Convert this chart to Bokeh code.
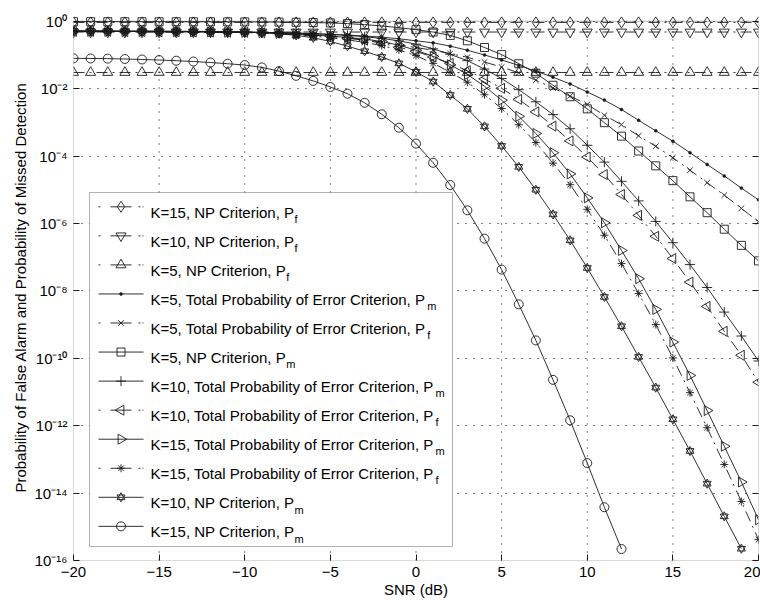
from bokeh.plotting import figure
from bokeh.models import (Range1d, LogAxis, FixedTicker, CustomJSTickFormatter,
                          BoxAnnotation, Label)
from bokeh.embed import file_html
from bokeh.resources import INLINE

# ---------------- data ----------------
snr = [-20, -19, -18, -17, -16, -15, -14, -13, -12, -11,
       -10, -9, -8, -7, -6, -5, -4, -3, -2, -1,
       0, 1, 2, 3, 4, 5, 6, 7, 8, 9,
       10, 11, 12, 13, 14, 15, 16, 17, 18, 19, 20]

x_ticks = [-20, -15, -10, -5, 0, 5, 10, 15, 20]
y_tick_exps = [0, -2, -4, -6, -8, -10, -12, -14, -16]

# values given as log10(probability)
pf_k15_np = [-0.035, -0.035, -0.035, -0.035, -0.035, -0.035, -0.035, -0.035, -0.035, -0.035,
             -0.035, -0.035, -0.035, -0.035, -0.035, -0.035, -0.035, -0.035, -0.035, -0.035,
             -0.035, -0.035, -0.035, -0.035, -0.035, -0.035, -0.035, -0.035, -0.035, -0.035,
             -0.035, -0.035, -0.035, -0.035, -0.035, -0.035, -0.035, -0.035, -0.035, -0.035, -0.035]
pf_k10_np = [-0.32, -0.32, -0.32, -0.32, -0.32, -0.32, -0.32, -0.32, -0.32, -0.32,
             -0.32, -0.32, -0.32, -0.32, -0.32, -0.32, -0.32, -0.32, -0.32, -0.32,
             -0.32, -0.32, -0.32, -0.32, -0.32, -0.32, -0.32, -0.32, -0.32, -0.32,
             -0.32, -0.32, -0.32, -0.32, -0.32, -0.32, -0.32, -0.32, -0.32, -0.32, -0.32]
pf_k5_np = [-1.52, -1.52, -1.52, -1.52, -1.52, -1.52, -1.52, -1.52, -1.52, -1.52,
            -1.52, -1.52, -1.52, -1.52, -1.52, -1.52, -1.52, -1.52, -1.52, -1.52,
            -1.52, -1.52, -1.52, -1.52, -1.52, -1.52, -1.52, -1.52, -1.52, -1.52,
            -1.52, -1.52, -1.52, -1.52, -1.52, -1.52, -1.52, -1.52, -1.52, -1.52, -1.52]
pm_k5_tpe = [-0.30, -0.30, -0.30, -0.30, -0.30, -0.305, -0.305, -0.31, -0.31, -0.315,
             -0.32, -0.33, -0.34, -0.355, -0.37, -0.39, -0.41, -0.44, -0.47, -0.52,
             -0.58, -0.64, -0.74, -0.86, -1.00, -1.15, -1.31, -1.48, -1.66, -1.86,
             -2.10, -2.34, -2.62, -2.94, -3.25, -3.56, -3.90, -4.25, -4.59, -4.95, -5.30]
pf_k5_tpe = [-0.30, -0.30, -0.30, -0.305, -0.305, -0.31, -0.31, -0.315, -0.32, -0.325,
             -0.33, -0.345, -0.36, -0.38, -0.41, -0.45, -0.50, -0.56, -0.62, -0.70,
             -0.78, -0.86, -0.96, -1.07, -1.21, -1.36, -1.53, -1.75, -1.98, -2.22,
             -2.47, -2.79, -3.07, -3.40, -3.71, -4.05, -4.42, -4.79, -5.16, -5.55, -5.95]
pm_k5_np = [-0.013, -0.013, -0.013, -0.014, -0.014, -0.015, -0.015, -0.016, -0.017, -0.018,
            -0.02, -0.022, -0.025, -0.03, -0.04, -0.05, -0.07, -0.10, -0.14, -0.19,
            -0.25, -0.32, -0.42, -0.58, -0.78, -0.99, -1.26, -1.54, -1.90, -2.24,
            -2.60, -3.01, -3.41, -3.85, -4.29, -4.73, -5.21, -5.68, -6.17, -6.65, -7.11]
pm_k10_tpe = [-0.30, -0.30, -0.30, -0.30, -0.30, -0.305, -0.31, -0.31, -0.315, -0.32,
              -0.325, -0.33, -0.34, -0.35, -0.37, -0.39, -0.42, -0.46, -0.51, -0.58,
              -0.68, -0.82, -0.98, -1.17, -1.42, -1.70, -2.03, -2.39, -2.77, -3.19,
              -3.68, -4.18, -4.75, -5.33, -5.94, -6.57, -7.22, -7.90, -8.63, -9.34, -10.08]
pf_k10_tpe = [-0.30, -0.30, -0.30, -0.305, -0.305, -0.31, -0.31, -0.315, -0.32, -0.325,
              -0.33, -0.34, -0.355, -0.37, -0.40, -0.44, -0.50, -0.56, -0.65, -0.77,
              -0.90, -1.06, -1.25, -1.47, -1.71, -1.99, -2.32, -2.69, -3.11, -3.55,
              -4.03, -4.55, -5.14, -5.76, -6.38, -7.04, -7.74, -8.46, -9.20, -9.91, -10.71]
pm_k15_tpe = [-0.30, -0.30, -0.30, -0.305, -0.305, -0.31, -0.31, -0.315, -0.32, -0.325,
              -0.33, -0.34, -0.36, -0.38, -0.41, -0.44, -0.48, -0.53, -0.60, -0.71,
              -0.86, -1.04, -1.29, -1.58, -1.93, -2.34, -2.82, -3.33, -3.90, -4.53,
              -5.24, -5.98, -6.80, -7.64, -8.55, -9.52, -10.51, -11.55, -12.61, -13.67, -14.79]
pf_k15_tpe = [-0.30, -0.30, -0.30, -0.305, -0.31, -0.31, -0.315, -0.32, -0.325, -0.33,
              -0.335, -0.35, -0.37, -0.40, -0.44, -0.49, -0.55, -0.63, -0.72, -0.85,
              -1.02, -1.25, -1.51, -1.81, -2.18, -2.59, -3.07, -3.60, -4.21, -4.85,
              -5.58, -6.35, -7.19, -8.08, -9.00, -9.99, -11.02, -12.06, -13.15, -14.25, -15.38]
pm_k10_np = [-0.285, -0.285, -0.285, -0.29, -0.29, -0.29, -0.295, -0.30, -0.30, -0.31,
             -0.32, -0.34, -0.37, -0.42, -0.49, -0.60, -0.74, -0.89, -1.06, -1.25,
             -1.50, -1.79, -2.19, -2.60, -3.12, -3.70, -4.32, -5.00, -5.73, -6.50,
             -7.32, -8.18, -9.05, -9.96, -10.87, -11.81, -12.75, -13.72, -14.69, -15.65]
pm_k15_np = [-1.10, -1.105, -1.11, -1.12, -1.135, -1.15, -1.17, -1.195, -1.225, -1.26,
             -1.30, -1.37, -1.48, -1.62, -1.77, -1.95, -2.15, -2.42, -2.76, -3.16,
             -3.63, -4.20, -4.86, -5.61, -6.45, -7.37, -8.40, -9.47, -10.64, -11.84,
             -13.11, -14.42, -15.66]

labels_main = [
    "K=15, NP Criterion, P", "K=10, NP Criterion, P", "K=5, NP Criterion, P",
    "K=5, Total Probability of Error Criterion, P", "K=5, Total Probability of Error Criterion, P",
    "K=5, NP Criterion, P",
    "K=10, Total Probability of Error Criterion, P", "K=10, Total Probability of Error Criterion, P",
    "K=15, Total Probability of Error Criterion, P", "K=15, Total Probability of Error Criterion, P",
    "K=10, NP Criterion, P", "K=15, NP Criterion, P"]
labels_sub = ["f", "f", "f", "m", "f", "m", "m", "f", "m", "f", "m", "m"]

series = [pf_k15_np, pf_k10_np, pf_k5_np, pm_k5_tpe, pf_k5_tpe, pm_k5_np,
          pm_k10_tpe, pf_k10_tpe, pm_k15_tpe, pf_k15_tpe, pm_k10_np, pm_k15_np]

# ---------------- styles ----------------
DASHDOT = "11 5 2 5"
DASHDOT_SAMPLE = "2 10 21 7 2"
styles = [
    dict(dash=DASHDOT, markers=[("diamond", 0.0)], size=11),
    dict(dash=DASHDOT, markers=[("inverted_triangle", 0.0)], size=10),
    dict(dash=DASHDOT, markers=[("triangle", 0.0)], size=10),
    dict(dash="solid", markers=[("dot", 0.0)], size=3),
    dict(dash=DASHDOT, markers=[("x", 0.0)], size=8),
    dict(dash="solid", markers=[("square", 0.0)], size=8),
    dict(dash="solid", markers=[("cross", 0.0)], size=10),
    dict(dash=DASHDOT, markers=[("triangle", 1.5708)], size=10),
    dict(dash="solid", markers=[("triangle", -1.5708)], size=10),
    dict(dash=DASHDOT, markers=[("asterisk", 0.0)], size=8),
    dict(dash="solid", markers=[("triangle", 0.0), ("inverted_triangle", 0.0)], size=8),
    dict(dash="solid", markers=[("circle", 0.0)], size=9),
]

FONT = "Liberation Sans"
INK = "#1a1a1a"

# figure / frame geometry (pixels)
W, H = 760, 602
BL, BR, BT, BB = 73, 2, 14, 42
Y_TOP_EXP = 0.2
X0, X1 = x_ticks[0], x_ticks[-1]
Y_LO_EXP = y_tick_exps[-1]

p = figure(width=W, height=H,
           x_range=Range1d(X0, X1), y_range=Range1d(10.0 ** Y_LO_EXP, 10 ** Y_TOP_EXP),
           y_axis_type="log", output_backend="svg", toolbar_location=None,
           min_border_left=BL, min_border_right=BR, min_border_top=BT, min_border_bottom=BB,
           background_fill_color="white", border_fill_color="white")
p.outline_line_color = None

FW = W - BL - BR
FH = H - BT - BB


def xd(px):
    """page pixel x -> data x"""
    return X0 + (px - BL) * (X1 - X0) / FW


def yd(py):
    """page pixel y -> data y (log scale)"""
    return 10.0 ** (Y_TOP_EXP - (py - BT) * (Y_TOP_EXP - Y_LO_EXP) / FH)


y_ticks = [10.0 ** e for e in y_tick_exps]
yfmt = CustomJSTickFormatter(code="""
const sup = {'0':'\u2070','1':'\u00b9','2':'\u00b2','3':'\u00b3','4':'\u2074','5':'\u2075',
             '6':'\u2076','7':'\u2077','8':'\u2078','9':'\u2079','-':'\u207b'};
const e = Math.round(Math.log10(tick));
return '10' + String(e).split('').map(c => sup[c]).join('');
""")
xfmt = CustomJSTickFormatter(code="return tick < 0 ? '\u2212' + (-tick) : String(tick);")

for ax in (p.xaxis[0], p.yaxis[0]):
    ax.axis_line_color = None
    ax.major_tick_in = 6
    ax.major_tick_out = 0
    ax.minor_tick_in = 0
    ax.minor_tick_out = 0
    ax.major_tick_line_color = INK
    ax.major_label_text_font = FONT
    ax.major_label_text_font_size = "15px"
    ax.major_label_text_color = "black"
    ax.axis_label_text_font = FONT
    ax.axis_label_text_font_size = "15px"
    ax.axis_label_text_font_style = "normal"
    ax.axis_label_text_color = "black"

p.xaxis.ticker = FixedTicker(ticks=x_ticks)
p.xaxis.formatter = xfmt
p.xaxis.major_label_standoff = 6
p.xaxis.axis_label = "SNR (dB)"
p.xaxis.axis_label_standoff = 1

p.yaxis.ticker = FixedTicker(ticks=y_ticks)
p.yaxis.formatter = yfmt
p.yaxis.major_label_standoff = 6
p.yaxis.axis_label = "Probability of False Alarm and Probability of Missed Detection"
p.yaxis.axis_label_standoff = 2

ra = LogAxis(ticker=FixedTicker(ticks=y_ticks), axis_line_color=None,
             major_tick_in=6, major_tick_out=0, minor_tick_in=0, minor_tick_out=0,
             major_tick_line_color=INK, major_label_standoff=0,
             formatter=CustomJSTickFormatter(code="return '';"))
p.add_layout(ra, "right")

# grid
p.ygrid.ticker = FixedTicker(ticks=y_ticks)
p.ygrid.grid_line_color = "black"
p.ygrid.grid_line_dash = "1 7"
p.ygrid.grid_line_width = 1
p.xgrid.visible = False
inner_x = x_ticks[1:-1]
p.segment(x0=inner_x, y0=[y_ticks[-1]] * len(inner_x), x1=inner_x, y1=[y_ticks[0]] * len(inner_x),
          line_color="black", line_dash="1 7", line_width=1)


def draw_markers(xs, ys, st, level="glyph"):
    for mk, ang in st["markers"]:
        if mk == "dot":
            p.scatter(xs, ys, marker="circle", size=st["size"], line_color=INK,
                      fill_color=INK, line_width=0.5, level=level)
        else:
            p.scatter(xs, ys, marker=mk, angle=ang, size=st["size"], line_color=INK,
                      fill_color=None, line_width=0.9, level=level)


# curves
for vals, st in zip(series, styles):
    xs = snr[:len(vals)]
    ys = [10.0 ** v for v in vals]
    p.line(xs, ys, line_color=INK, line_width=0.9, line_dash=st["dash"])
    draw_markers(xs, ys, st)

# frame box (at 10^0 .. 10^-16)
p.add_layout(BoxAnnotation(left=X0, right=X1, bottom=y_ticks[-1], top=y_ticks[0],
                           fill_alpha=0, line_color="black", line_width=1, level="overlay"))

# ---------------- legend (drawn by hand so that markers keep their rotation) ----------------
LEG_L, LEG_R, LEG_T, LEG_B = 89, 452, 192, 546
ROW0, ROW_STEP = 206.3, 29.05
SAMPLE_L, SAMPLE_R, TEXT_X = 98, 143, 150
LFS, SFS = 15, 11

p.add_layout(BoxAnnotation(left=xd(LEG_L), right=xd(LEG_R), top=yd(LEG_T), bottom=yd(LEG_B),
                           fill_color="white", fill_alpha=1.0, line_color="black", line_width=1,
                           level="annotation"))

ADV = {'K': 667, '=': 584, '1': 556, '5': 556, '0': 556, ',': 278, ' ': 278, 'N': 722,
       'P': 667, 'C': 722, 'r': 333, 'i': 222, 't': 278, 'e': 556, 'o': 556, 'n': 556,
       'T': 611, 'a': 556, 'l': 222, 'b': 556, 'y': 500, 'f': 278, 'E': 667}

for i, (st, txt, sub) in enumerate(zip(styles, labels_main, labels_sub)):
    cy = ROW0 + i * ROW_STEP
    yy = yd(cy)
    p.line([xd(SAMPLE_L), xd(SAMPLE_R)], [yy, yy], line_color=INK, line_width=0.9,
           line_dash=DASHDOT_SAMPLE if st["dash"] != "solid" else "solid",
           level="overlay")
    draw_markers([xd((SAMPLE_L + SAMPLE_R) / 2)], [yy], st, level="overlay")
    p.add_layout(Label(x=xd(TEXT_X), y=yd(cy + 5.4), text=txt, text_font=FONT,
                       text_font_size=f"{LFS}px", text_color="black",
                       text_baseline="alphabetic", text_align="left", level="overlay"))
    w = sum(ADV.get(c, 556) for c in txt) * LFS / 1000.0
    p.add_layout(Label(x=xd(TEXT_X + w + 0.3), y=yd(cy + 12.2), text=sub, text_font=FONT,
                       text_font_size=f"{SFS}px", text_color="black",
                       text_baseline="alphabetic", text_align="left", level="overlay"))

open("out.html", "w").write(file_html(p, INLINE))
